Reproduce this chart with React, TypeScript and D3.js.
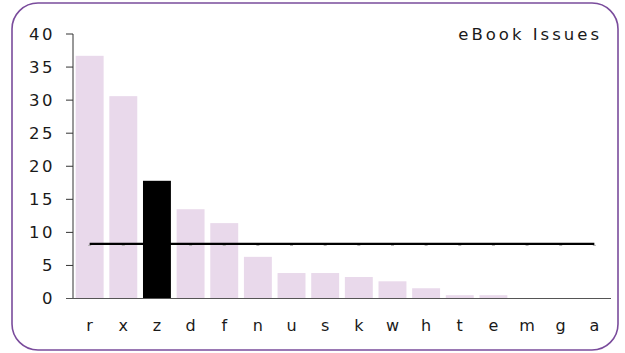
import React from "react";
import * as d3 from "d3";

const categories = ["r", "x", "z", "d", "f", "n", "u", "s", "k", "w", "h", "t", "e", "m", "g", "a"];
const values = [36.7, 30.6, 17.8, 13.5, 11.4, 6.3, 3.85, 3.85, 3.25, 2.6, 1.55, 0.5, 0.5, 0, 0, 0];
const highlighted = ["z"];
const yTicks = [0, 5, 10, 15, 20, 25, 30, 35, 40];
const title = "eBook Issues";

const W = 625;
const H = 353;
const FONT = "'DejaVu Sans', Verdana, sans-serif";

export default function App() {
  const x = d3.scaleBand<string>().domain(categories).range([73, 611]).paddingInner(0.17).paddingOuter(0.08);
  const y = d3.scaleLinear().domain([0, 40]).range([298.5, 34]);
  const mean = d3.mean(values) as number;
  const first = categories[0];
  const last = categories[categories.length - 1];
  const cx = (c: string) => (x(c) as number) + x.bandwidth() / 2;

  return (
    <svg width={W} height={H} style={{ position: "absolute", left: 0, top: 0 }}>
      <rect x={0} y={0} width={W} height={H} fill="#fff" />
      <rect x={12} y={3} width={606} height={347} rx={26} ry={26} fill="#fff" stroke="#7a4c9c" strokeWidth={1.6} />
      {categories.map((c, i) => (
        <rect
          key={c}
          x={x(c)}
          y={y(values[i])}
          width={x.bandwidth()}
          height={y(0) - y(values[i])}
          fill={highlighted.includes(c) ? "#000" : "#e9d9eb"}
        />
      ))}
      {/* y axis */}
      <line x1={73} x2={73} y1={y(40)} y2={y(0)} stroke="#333" strokeWidth={1} />
      {yTicks.map((t) => (
        <g key={t}>
          <line x1={66} x2={73} y1={y(t)} y2={y(t)} stroke="#333" strokeWidth={1} />
          <text
            x={55}
            y={y(t)}
            textAnchor="end"
            dominantBaseline="central"
            fontFamily={FONT}
            fontSize={16.5}
            letterSpacing={2.5}
            fill="#1a1a1a"
          >
            {t}
          </text>
        </g>
      ))}
      {/* x axis */}
      <line x1={66} x2={611} y1={y(0)} y2={y(0)} stroke="#555" strokeWidth={1} />
      {categories.map((c) => (
        <text
          key={c}
          x={cx(c)}
          y={325}
          textAnchor="middle"
          dominantBaseline="central"
          fontFamily={FONT}
          fontSize={16}
          fill="#1a1a1a"
        >
          {c}
        </text>
      ))}
      {/* mean line */}
      {categories.map((c) =>
        highlighted.includes(c) ? null : (
          <rect key={"m" + c} x={cx(c) - 1.5} y={y(mean) + 1.1} width={3} height={1} fill="#aaa" />
        )
      )}
      <line x1={cx(first)} x2={cx(last)} y1={y(mean)} y2={y(mean)} stroke="#000" strokeWidth={2.2} />
      <text
        x={602}
        y={34}
        textAnchor="end"
        dominantBaseline="central"
        fontFamily={FONT}
        fontSize={16.5}
        letterSpacing={3}
        fill="#1a1a1a"
      >
        {title}
      </text>
    </svg>
  );
}
